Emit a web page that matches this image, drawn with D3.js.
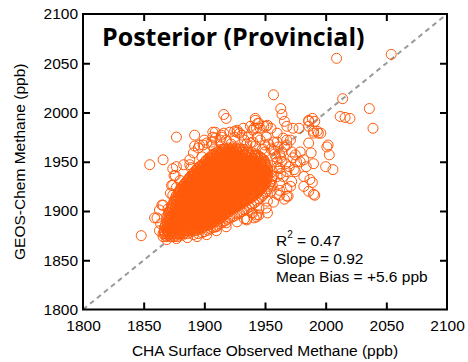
<!DOCTYPE html>
<html><head><meta charset="utf-8">
<script src="https://cdn.jsdelivr.net/npm/d3@7"></script>
<style>body{margin:0;background:#fff;overflow:hidden}</style>
</head><body>
<svg id="c" width="468" height="362"></svg>
<script>
// ---- data ----
const axisTicks = [1800, 1850, 1900, 1950, 2000, 2050, 2100];
const chartTitle = "Posterior (Provincial)";
const xTitle = "CHA Surface Observed Methane (ppb)";
const yTitle = "GEOS-Chem Methane (ppb)";
const statR2 = "0.47";
const statSlope = "0.92";
const statBias = "+5.6 ppb";

// dense core of the cloud: [modelled value, [observed values ...]]
const coreRows = [
  [1874, [1866,1869,1872,1875,1878]],
  [1877, [1866,1868,1871,1874,1877,1880,1883,1886]],
  [1880, [1867,1870,1872,1875,1879,1881,1884,1887,1890,1893]],
  [1883, [1867,1869,1872,1876,1878,1881,1884,1887,1889,1892,1896,1899]],
  [1886, [1868,1871,1874,1876,1879,1882,1885,1888,1891,1893,1896,1899,1902,1904]],
  [1889, [1869,1872,1874,1877,1880,1883,1886,1889,1891,1894,1897,1900,1903,1905,1908]],
  [1892, [1869,1872,1875,1878,1881,1883,1886,1889,1892,1895,1898,1900,1903,1906,1909,1912]],
  [1895, [1870,1873,1876,1879,1881,1884,1887,1890,1893,1896,1898,1901,1904,1907,1910,1912,1915]],
  [1898, [1871,1874,1877,1880,1882,1885,1888,1891,1894,1897,1899,1902,1905,1908,1911,1913,1916,1918]],
  [1901, [1872,1875,1878,1880,1883,1886,1889,1892,1895,1897,1900,1903,1906,1909,1911,1914,1917,1920,1922]],
  [1904, [1873,1876,1879,1882,1884,1887,1890,1893,1896,1898,1901,1904,1907,1910,1912,1915,1918,1921,1923,1926]],
  [1907, [1874,1877,1880,1883,1886,1888,1891,1894,1897,1900,1902,1905,1908,1911,1914,1916,1919,1922,1925,1927,1930]],
  [1910, [1875,1878,1881,1884,1887,1889,1892,1895,1898,1901,1903,1906,1909,1912,1915,1917,1920,1923,1926,1928,1931,1934]],
  [1913, [1876,1879,1882,1885,1888,1890,1893,1896,1899,1902,1904,1907,1910,1913,1916,1918,1921,1924,1927,1929,1932,1935,1938]],
  [1916, [1877,1880,1883,1886,1889,1891,1894,1897,1900,1903,1905,1908,1911,1914,1917,1919,1922,1925,1928,1930,1933,1936,1939,1941]],
  [1919, [1879,1882,1885,1887,1890,1893,1896,1899,1901,1904,1907,1910,1913,1915,1918,1921,1924,1927,1929,1932,1935,1938,1941,1944]],
  [1922, [1880,1883,1886,1889,1891,1894,1897,1900,1903,1905,1908,1911,1914,1917,1919,1922,1925,1928,1931,1933,1936,1939,1942,1944,1946]],
  [1925, [1882,1885,1888,1890,1893,1896,1899,1902,1904,1907,1910,1913,1916,1918,1921,1924,1927,1930,1932,1935,1938,1941,1943,1946,1948]],
  [1928, [1884,1887,1889,1892,1895,1898,1901,1903,1906,1909,1912,1915,1917,1920,1923,1926,1929,1931,1934,1937,1940,1942,1945,1948,1950]],
  [1931, [1886,1889,1891,1894,1897,1900,1903,1905,1908,1911,1914,1917,1919,1922,1925,1928,1931,1933,1936,1939,1942,1944,1947,1950]],
  [1934, [1888,1890,1893,1896,1899,1902,1904,1907,1910,1913,1916,1918,1921,1924,1927,1930,1932,1935,1938,1941,1943,1946,1949,1951]],
  [1937, [1890,1892,1895,1898,1901,1904,1906,1909,1912,1915,1918,1920,1923,1926,1929,1932,1934,1937,1940,1943,1945,1948,1951]],
  [1940, [1892,1895,1898,1900,1903,1906,1909,1912,1914,1917,1920,1923,1926,1928,1931,1934,1937,1940,1942,1945,1948,1951]],
  [1943, [1894,1897,1900,1903,1905,1908,1911,1914,1917,1919,1922,1925,1928,1931,1933,1936,1940,1943,1946,1949,1952]],
  [1946, [1897,1900,1902,1905,1908,1911,1914,1916,1919,1922,1925,1928,1930,1933,1937,1941,1944,1947,1951]],
  [1949, [1900,1903,1905,1908,1911,1914,1917,1919,1922,1925,1928,1931,1934,1938,1942,1946,1950]],
  [1952, [1902,1905,1908,1911,1913,1916,1919,1922,1925,1927,1930,1934,1938,1941,1945,1949]],
  [1955, [1905,1908,1911,1914,1916,1919,1922,1925,1928,1931,1935,1939,1942,1946]],
  [1958, [1908,1911,1914,1917,1920,1923,1926,1929,1933,1937,1942]],
  [1961, [1912,1915,1918,1921,1924,1927,1931,1936]],
  [1964, [1917,1920,1923,1926,1929]]
];

// second, staggered layer of the core: [modelled value, [observed values ...]]
const coreRowsB = [
  [1875.5, [1867.5,1870.5,1873.5,1876.5,1879.5,1882]],
  [1878.5, [1867,1869.5,1872.5,1876,1878.5,1882,1885,1888.5]],
  [1881.5, [1868.5,1871,1874,1877,1880,1882.5,1885.5,1888.5,1891,1894,1896]],
  [1884.5, [1868,1870.5,1873.5,1877.5,1880,1883,1886,1888.5,1891,1894.5,1897.5,1900.5]],
  [1887.5, [1869.5,1872.5,1875.5,1878,1881,1884,1887,1890,1892.5,1895,1898,1901,1904,1906]],
  [1890.5, [1870.5,1873.5,1876,1879,1882,1884.5,1887.5,1890.5,1893.5,1896.5,1899,1902,1904.5,1907.5,1910]],
  [1893.5, [1871,1874,1877,1880,1882.5,1885.5,1888,1891,1894,1897,1899.5,1902.5,1905.5,1908,1911,1913.5]],
  [1896.5, [1872,1875,1878,1880.5,1883.5,1886.5,1889,1892,1895,1897.5,1900.5,1903.5,1906,1909,1911.5,1914.5,1917]],
  [1899.5, [1873,1876,1878.5,1881.5,1884,1887,1890,1893,1895.5,1898.5,1901.5,1904,1907,1910,1912.5,1915.5,1918.5,1920.5]],
  [1902.5, [1873.5,1876.5,1880,1882.5,1885.5,1888.5,1891,1894,1897,1899.5,1902.5,1905.5,1908,1911,1913.5,1916.5,1919.5,1922,1924.5]],
  [1905.5, [1874.5,1877.5,1881,1883.5,1886,1889,1892,1895,1897.5,1900.5,1903.5,1906,1909,1912,1914.5,1917.5,1920,1923,1926,1928.5]],
  [1908.5, [1875.5,1879,1882,1884.5,1887.5,1890.5,1893,1896,1899,1902,1904.5,1907.5,1910,1913,1916,1918.5,1921.5,1924,1927,1930,1932.5]],
  [1911.5, [1876.5,1880,1883,1885.5,1888.5,1891,1894,1897,1900,1902.5,1905,1908,1911,1914,1916.5,1919.5,1922,1925,1928,1930.5,1933,1936]],
  [1914.5, [1878,1881,1884,1886.5,1889.5,1892,1895,1898,1900.5,1903.5,1906.5,1909,1912,1915,1917.5,1920.5,1923,1926,1929,1931.5,1934.5,1937,1940]],
  [1917.5, [1878.5,1881.5,1884.5,1887.5,1890,1893,1896,1898.5,1901.5,1904.5,1907,1910,1913,1916,1918.5,1921.5,1924,1927,1930,1932.5,1935.5,1938,1941,1943]],
  [1920.5, [1880.5,1883.5,1886.5,1889,1892,1895,1898,1900.5,1903.5,1906,1909,1912,1915.5,1918,1920.5,1923.5,1926.5,1929,1932,1934.5,1937.5,1940.5,1943,1945.5]],
  [1923.5, [1881.5,1884.5,1887,1890,1893,1895.5,1898.5,1901.5,1904,1907,1910,1912.5,1915,1918.5,1921,1924,1926.5,1929.5,1932.5,1935,1937.5,1940.5,1943.5,1946,1947.5]],
  [1926.5, [1883,1886,1889,1891.5,1894.5,1897,1900,1903,1905.5,1908,1911,1914,1916.5,1919,1922,1925,1928,1930.5,1933,1936,1939,1941.5,1944,1947,1949.5]],
  [1929.5, [1885,1888,1890.5,1893.5,1896,1899,1902,1904.5,1907.5,1910.5,1913,1916,1918.5,1921.5,1924.5,1927,1930,1932.5,1935.5,1938,1941,1943.5,1946,1949,1951]],
  [1932.5, [1887,1890,1892.5,1895.5,1898,1901,1904,1906.5,1909.5,1912,1915,1918,1920.5,1923.5,1926,1929,1932,1934.5,1937.5,1940,1942.5,1945.5,1948.5,1951]],
  [1935.5, [1889,1891.5,1894,1897,1900,1903,1905.5,1908,1911,1914,1917,1919.5,1922,1925,1928,1931,1933.5,1936,1939,1942,1944.5,1947,1950,1952]],
  [1938.5, [1891,1894,1896.5,1899.5,1902.5,1905,1907.5,1910.5,1913.5,1916.5,1919,1921.5,1924.5,1927.5,1930.5,1933,1935.5,1938.5,1941.5,1944,1946.5,1949.5,1952]],
  [1941.5, [1893.5,1896.5,1899,1901.5,1904.5,1907.5,1910.5,1913,1915.5,1918.5,1921.5,1924.5,1927,1929.5,1932.5,1935.5,1938.5,1941,1943.5,1946.5,1949.5,1952]],
  [1944.5, [1895.5,1898.5,1901,1904,1906.5,1909.5,1912.5,1915,1918,1920.5,1923.5,1926.5,1929,1932,1935,1938.5,1942,1945,1948,1951]],
  [1947.5, [1898.5,1901.5,1904,1906.5,1909.5,1912.5,1915.5,1918,1920.5,1923.5,1926.5,1929.5,1932.5,1935.5,1939.5,1943.5,1947,1950]],
  [1950.5, [1901,1904,1906.5,1909.5,1912,1915,1918,1920.5,1923.5,1926,1929,1932,1936,1939.5,1943,1947,1949.5]],
  [1953.5, [1903.5,1906.5,1909.5,1912.5,1915,1917.5,1920.5,1923.5,1926.5,1929,1932.5,1936.5,1940,1943.5,1947]],
  [1956.5, [1906.5,1909.5,1912.5,1915.5,1918.5,1921,1924,1927,1930,1934,1938,1941.5,1944]],
  [1959.5, [1910,1913,1916,1919,1922,1925,1928,1931,1935,1939]],
  [1962.5, [1914.5,1917.5,1920.5,1923.5,1926.5,1929.5,1932.5]]
];

// dense band along the lower-right edge of the core: [observed, modelled]
const edgePoints = [
  [1925,1895],[1929,1898],[1933,1901],[1937,1904],[1941,1908],[1945,1912],[1948,1916],[1951,1920],
  [1953,1925],[1955,1930],[1956,1935],[1956,1940],[1955,1946],[1921,1893],[1917,1890],[1913,1887],
  [1909,1884],[1905,1882],[1900,1879],[1895,1877],[1891,1876],
  [1927,1897],[1931,1899.5],[1935,1902.5],[1939,1906],[1943,1910],[1947,1914],[1950,1918],[1952,1922.5],
  [1954,1927.5],[1955.5,1932.5],[1923,1894],[1919,1891.5],[1915,1888.5],[1911,1885.5],[1907,1883],
  [1903,1880.5],[1898,1878]
];

// rings around the edge of the core: [observed, modelled]
const fringePoints = [
  [1859,1893],[1863,1901],[1866,1906],[1874,1916],[1874,1926],[1876,1936],[1877,1945],[1883,1947],
  [1888,1952],[1891,1959],[1895,1964],[1902,1969],[1906,1970],[1909,1974],[1916,1979],[1921,1980],
  [1927,1982],[1932,1984],[1938,1986],[1942,1992],[1943,1984],[1951,1986],[1955,1984],[1960,1979],
  [1965,1974],[1968,1967],[1972,1960],[1973,1954],[1976,1950],[1975,1940],[1972,1930],[1968,1923],
  [1962,1916],[1957,1909],[1951,1903],[1943,1896],[1935,1891],[1927,1889],[1918,1884],[1910,1880],
  [1902,1876],[1894,1874],[1886,1873],[1877,1872],[1869,1871],
  [1941,1893],[1952,1898],[1935,1892],[1945,1896],[1939,1898],[1945,1903],[1952,1910],[1960,1917],
  [1955,1920],[1966,1912],[1910,1884],[1918,1888],
  [1896,1967],[1899,1967],[1906,1967],[1907,1975],[1913,1972],[1874,1943],[1888,1947],[1914,1975],
  [1892,1966],[1875,1936],[1873,1926],[1872,1918],[1865,1906],[1861,1893],[1909,1980],[1914,1977],
  [1927,1980],[1929,1979],[1938,1969],[1950,1967],[1960,1970],[1971,1972],[1979,1960],[1975,1957],
  [1979,1950],[1984,1945],[1982,1935],[1987,1932],[1991,1916],[1971,1925],[1969,1915],[1951,1938],
  [1960,1935],[1956,1926],[1962,1921],[1968,1915],[1943,1894],[1974,1942],[1968,1940],[1925,1981],
  [1933,1972],[1941,1984],[1944,1975],[1951,1975],[1957,1970],[1966,1965],[1968,1972],
  [1982,1925],[1990,1917],[1986,1920],[1989,1929],[1933,1892],[1940,1898],
  [1900,1972],[1918,1972],[1925,1975],[1931,1977],[1936,1975],[1940,1970],[1946,1972],[1953,1968],
  [1957,1962],[1962,1958],[1964,1950],[1962,1943],[1965,1935],[1962,1928],
  [1950,1960],[1955,1963],[1958,1958],[1961,1965],[1964,1960],[1963,1954],[1967,1948],[1970,1945],
  [1960,1944],[1963,1938],[1960,1950],[1959,1955],[1948,1963],[1942,1966],[1935,1968],[1922,1968],
  [1908,1963],[1898,1955],[1889,1944],[1880,1931],[1877,1924],[1870,1902],[1864,1887],[1863,1880]
];

// scattered points away from the cloud: [observed, modelled]
const outlierPoints = [
  [1848,1875],[1855,1947],[1866,1952],[1877,1975],[1892,1977],[1907,1980],[1916,1998],[1918,1994],
  [1940,1982],[1944,1989],[1946,1984],[1986,1991],[1991,1991],[1990,1981],[1994,1979],[2002,1967],
  [1963,2004],[1964,1998],[1966,1991],[1942,1994],[1945,1989],[1949,1986],[1952,1987],[1968,1986],
  [1973,1984],[1978,1984],[1986,1992],[1989,1994],[1986,1986],[1990,1979],[1993,1981],[1996,1979],
  [1986,1969],[2001,1965],[2003,1957],[2000,1945],[2006,1942],[1988,1959],[1982,1952],[1990,1948],
  [2054,2059],[2009,2055],[1957,2018],[2014,2014],[2036,2004],[2012,1996],[2016,1995],[2020,1994],
  [2039,1984]
];

// ---- drawing ----
const svg = d3.select("#c");
const L = 83, R = 447, T = 14, B = 309.5;
const x = d3.scaleLinear().domain([1800, 2100]).range([L, R]);
const y = d3.scaleLinear().domain([1800, 2100]).range([B, T]);
const font = "'Liberation Sans', Arial, sans-serif";

// 1:1 line
svg.append("line")
  .attr("x1", x(1800)).attr("y1", y(1800)).attr("x2", x(2100)).attr("y2", y(2100))
  .attr("stroke", "#9a9a9a").attr("stroke-width", 2).attr("stroke-dasharray", "5,4");

const rowsToPoints = rows => rows.flatMap(([yy, xs]) => xs.map(xx => [xx, yy]));
const pts = rowsToPoints(coreRows).concat(rowsToPoints(coreRowsB), edgePoints, fringePoints, outlierPoints);

svg.append("g").selectAll("circle").data(pts).join("circle")
  .attr("cx", d => x(d[0])).attr("cy", d => y(d[1])).attr("r", 5)
  .attr("fill", "none").attr("stroke", "#ff5a0a").attr("stroke-width", 1);

// axes (inward ticks)
const inner = ticks => ticks.filter(t => t > 1800 && t < 2100);
const styleAxis = g => {
  g.select(".domain").remove();
  g.selectAll(".tick line").attr("stroke", "#000").attr("stroke-width", 2);
  g.selectAll(".tick text").attr("fill", "#000").style("font-family", font).style("font-size", "15.5px");
};
svg.append("g").attr("transform", `translate(0,${B})`)
  .call(d3.axisBottom(x).tickValues(axisTicks).tickSize(-7).tickPadding(10).tickFormat(d3.format("d")))
  .call(styleAxis)
  .call(g => g.selectAll(".tick line").filter(d => d === 1800 || d === 2100).remove());
svg.append("g").attr("transform", `translate(${L},0)`)
  .call(d3.axisLeft(y).tickValues(axisTicks).tickSize(-7).tickPadding(5).tickFormat(d3.format("d")))
  .call(styleAxis)
  .call(g => g.selectAll(".tick line").filter(d => d === 1800 || d === 2100).remove());
svg.append("g").attr("transform", `translate(0,${T})`)
  .call(d3.axisTop(x).tickValues(inner(axisTicks)).tickSize(-7).tickFormat(""))
  .call(styleAxis);
svg.append("g").attr("transform", `translate(${R},0)`)
  .call(d3.axisRight(y).tickValues(inner(axisTicks)).tickSize(-7).tickFormat(""))
  .call(styleAxis);

// frame
svg.append("rect").attr("x", L).attr("y", T).attr("width", R - L).attr("height", B - T)
  .attr("fill", "none").attr("stroke", "#000").attr("stroke-width", 2);

// titles
svg.append("text").attr("x", 102).attr("y", 46)
  .style("font-family", "'Open Sans', sans-serif").style("font-weight", 700).style("font-size", "25px")
  .attr("fill", "#000").text(chartTitle);

svg.append("text").attr("x", (L + R) / 2).attr("y", 356).attr("text-anchor", "middle")
  .style("font-family", font).style("font-size", "15.5px").attr("fill", "#000").text(xTitle);

svg.append("text").attr("transform", `translate(25,${(T + B) / 2}) rotate(-90)`).attr("text-anchor", "middle")
  .style("font-family", font).style("font-size", "15.5px").attr("fill", "#000").text(yTitle);

// stats
const st = svg.append("g").style("font-family", font).style("font-size", "15.5px").attr("fill", "#000");
const t1 = st.append("text").attr("x", 276).attr("y", 246);
t1.append("tspan").text("R");
t1.append("tspan").attr("dy", -8).style("font-size", "10px").text("2");
t1.append("tspan").attr("dy", 8).text(" = " + statR2);
st.append("text").attr("x", 276).attr("y", 264).text("Slope = " + statSlope);
st.append("text").attr("x", 276).attr("y", 282).text("Mean Bias = " + statBias);
</script>
</body></html>
